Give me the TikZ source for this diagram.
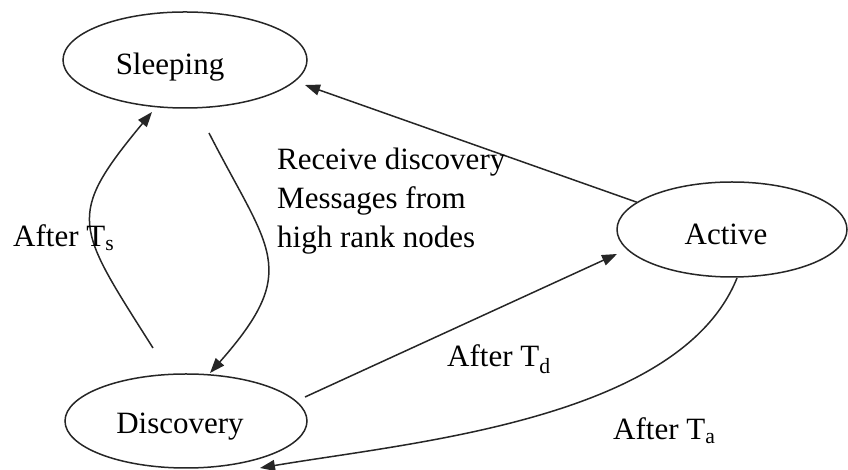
\documentclass[tikz,border=0pt]{standalone}
\usepackage{fontspec}
\setmainfont{Liberation Serif}
\usetikzlibrary{shapes.geometric,arrows.meta,calc}
\begin{document}
\begin{tikzpicture}[x=1pt,y=1pt,
  state/.style={draw=black!85, ellipse, line width=1.5pt, inner sep=0pt},
  conn/.style={draw=black!85, line width=1.5pt, -{Triangle[length=15pt,width=11pt]}},
  lbl/.style={font=\fontsize{31}{39}\selectfont, inner sep=0pt}]
\useasboundingbox (0,0) rectangle (848,470);
\node[state, minimum width=244pt, minimum height=96pt,
  label={[lbl,anchor=base,xshift=-15pt,yshift=-7pt]center:Sleeping}] (sleep) at (185,410) {};
\node[state, minimum width=242pt, minimum height=94pt,
  label={[lbl,anchor=base,xshift=-6pt,yshift=-6pt]center:Discovery}] (disc) at (186,49) {};
\node[state, minimum width=230pt, minimum height=95pt,
  label={[lbl,anchor=base,xshift=-6pt,yshift=-4.5pt]center:Active}] (act) at (732,240.5) {};
% connectors
\draw[conn] ($(disc.center)+(-33,73)$) .. controls (75.6,244.4) and (65,253) .. ($(sleep.center)+(-33,-52)$);
\draw[conn] ($(sleep.center)+(24,-73)$) .. controls (269,219.5) and (302,201) .. ($(disc.center)+(24,48)$);
\draw[conn] (act.164) -- ($(sleep.center)+(120,-25)$);
\draw[conn] ($(disc.center)+(119,24)$) -- ($(act.center)+(-115,-24.5)$);
\draw[conn] ($(act.center)+(5,-48.5)$) .. controls (680,50) and (410,27.5) .. ($(disc.center)+(74,-47)$);
% labels
\node[lbl, anchor=base west, align=left] (recv) at (277,222) {Receive discovery\\Messages from\\high rank nodes};
\node[lbl, anchor=base west] (ts) at (13,223) {After T\textsubscript{s}};
\node[lbl, anchor=base west] (td) at (447,103) {After T\textsubscript{d}};
\node[lbl, anchor=base west] (ta) at (613,30) {After T\textsubscript{a}};
\end{tikzpicture}
\end{document}
